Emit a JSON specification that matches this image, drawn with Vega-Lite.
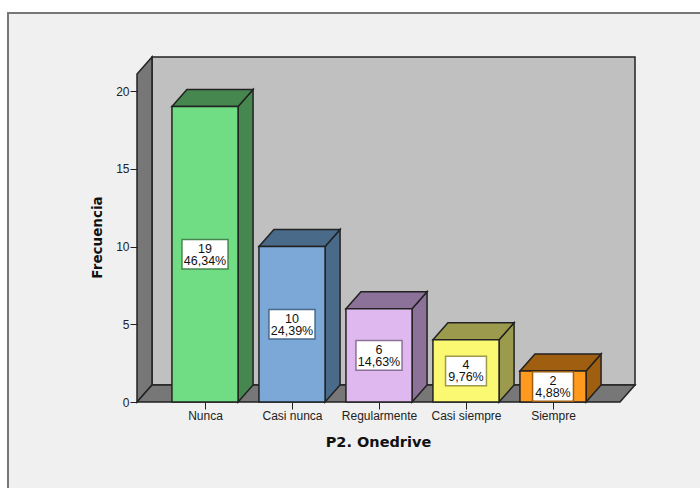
{
"$schema":"https://vega.github.io/schema/vega-lite/v6.json",
"width":498,"height":345,
"autosize":{"type":"none"},
"padding":{"left":137,"top":57,"right":65,"bottom":86},
"background":"#ffffff",
"view":{"stroke":null},
"datasets":{"bars":[
{"pos":1,"cat":"Nunca","n":19,"pct":"46,34%","wide":1},
{"pos":2,"cat":"Casi nunca","n":10,"pct":"24,39%","wide":1},
{"pos":3,"cat":"Regularmente","n":6,"pct":"14,63%","wide":1},
{"pos":4,"cat":"Casi siempre","n":4,"pct":"9,76%","wide":0},
{"pos":5,"cat":"Siempre","n":2,"pct":"4,88%","wide":0}
],"depth":[{"t":0},{"t":1}]},
"resolve":{"scale":{"color":"independent"}},
"layer":[
{"data":{"values":[{"part":"frame"}]},
 "mark":{"type":"rect","fill":"#f0f0f0","stroke":"#777777","strokeWidth":2},
 "encoding":{
  "x":{"datum":-1.2644,"type":"quantitative","scale":{"domain":[0.2184,5.9425],"nice":false,"zero":false},
   "axis":{"zindex":1,"values":[1,2,3,4,5],"grid":false,"domain":false,"tickColor":"#222222","tickSize":7,"labelFontSize":12,"labelFont":"Liberation Sans","labelColor":"#222222","labelPadding":1,"labelFlush":false,"labelOverlap":false,"labelExpr":"['Nunca','Casi nunca','Regularmente','Casi siempre','Siempre'][datum.value-1]","title":"P2. Onedrive","titleFont":"DejaVu Sans","titleFontSize":14.5,"titleFontWeight":"bold","titleColor":"#111111","titleX":241,"titleY":33}},
  "x2":{"datum":6.72},
  "y":{"datum":25.016,"type":"quantitative","scale":{"domain":[0,22.19],"nice":false,"zero":false},
   "axis":{"zindex":1,"values":[0,5,10,15,20],"grid":false,"domain":false,"tickColor":"#222222","tickSize":7,"labelFontSize":12,"labelFont":"Liberation Sans","labelColor":"#222222","labelPadding":1,"title":"Frecuencia","titleFont":"DejaVu Sans","titleFontSize":13.5,"titleFontWeight":"bold","titleColor":"#111111","titleX":-33,"titleY":180}},
  "y2":{"datum":-5.7}}},
{"data":{"values":[{"part":"back wall"}]},
 "mark":{"type":"rect","fill":"#c0c0c0","stroke":"#222222","strokeWidth":1.5},
 "encoding":{"x":{"datum":0.3908,"type":"quantitative"},"x2":{"datum":5.9425},"y":{"datum":1.093,"type":"quantitative"},"y2":{"datum":22.19}}},
{"data":{"name":"depth"},
 "transform":[{"calculate":"0.2184+datum.t*0.1724","as":"wx"},{"calculate":"datum.t*1.093","as":"wy0"},{"calculate":"21.09+datum.t*1.1","as":"wy1"}],
 "mark":{"type":"area","fill":"#777777","stroke":"#222222","strokeWidth":1.5},
 "encoding":{"x":{"field":"wx","type":"quantitative"},"y":{"field":"wy0","type":"quantitative"},"y2":{"field":"wy1"}}},
{"data":{"name":"depth"},
 "transform":[{"calculate":"0.2184+datum.t*0.1724","as":"fx0"},{"calculate":"5.77+datum.t*0.1725","as":"fx1"},{"calculate":"datum.t*1.093","as":"fy"}],
 "mark":{"type":"area","orient":"horizontal","fill":"#777777","stroke":"#222222","strokeWidth":1.5},
 "encoding":{"y":{"field":"fy","type":"quantitative"},"x":{"field":"fx0","type":"quantitative"},"x2":{"field":"fx1"}}},
{"data":{"name":"bars"},
 "transform":[{"calculate":"[0,1]","as":"t"},{"flatten":["t"]},{"calculate":"datum.pos+0.38+datum.t*0.1724","as":"sx"},{"calculate":"datum.t*1.093","as":"sy0"},{"calculate":"datum.n+datum.t*1.093","as":"sy1"}],
 "mark":{"type":"area","stroke":"#222222","strokeWidth":1.5},
 "encoding":{"x":{"field":"sx","type":"quantitative"},"y":{"field":"sy0","type":"quantitative"},"y2":{"field":"sy1"},
  "color":{"field":"cat","type":"nominal","legend":null,"scale":{"domain":["Nunca","Casi nunca","Regularmente","Casi siempre","Siempre"],"range":["#46874f","#4a6a8a","#8c7198","#9c9a4d","#a05e10"]}}}},
{"data":{"name":"bars"},
 "transform":[{"calculate":"[0,1]","as":"t"},{"flatten":["t"]},{"calculate":"datum.pos-0.38+datum.t*0.1724","as":"tx0"},{"calculate":"datum.pos+0.38+datum.t*0.1724","as":"tx1"},{"calculate":"datum.n+datum.t*1.093","as":"ty"}],
 "mark":{"type":"area","orient":"horizontal","stroke":"#222222","strokeWidth":1.5},
 "encoding":{"y":{"field":"ty","type":"quantitative"},"x":{"field":"tx0","type":"quantitative"},"x2":{"field":"tx1"},
  "color":{"field":"cat","type":"nominal","legend":null,"scale":{"domain":["Nunca","Casi nunca","Regularmente","Casi siempre","Siempre"],"range":["#46874f","#4a6a8a","#8c7198","#9c9a4d","#a05e10"]}}}},
{"data":{"name":"bars"},
 "transform":[{"calculate":"datum.pos-0.38","as":"b0"},{"calculate":"datum.pos+0.38","as":"b1"},{"calculate":"0","as":"base"}],
 "mark":{"type":"rect","stroke":"#222222","strokeWidth":1.5},
 "encoding":{"x":{"field":"b0","type":"quantitative"},"x2":{"field":"b1"},"y":{"field":"base","type":"quantitative"},"y2":{"field":"n"},
  "color":{"field":"cat","type":"nominal","legend":null,"scale":{"domain":["Nunca","Casi nunca","Regularmente","Casi siempre","Siempre"],"range":["#70dc84","#7ba8d6","#dfb8ef","#fbf871","#ff9a1e"]}}}},
{"data":{"name":"bars"},
 "transform":[{"calculate":"datum.wide?0.265:0.235","as":"hw"},{"calculate":"datum.pos-datum.hw","as":"l0"},{"calculate":"datum.pos+datum.hw","as":"l1"},{"calculate":"datum.n/2-0.95","as":"l2"},{"calculate":"datum.n/2+0.95","as":"l3"}],
 "mark":{"type":"rect","fill":"#ffffff","strokeWidth":1.5},
 "encoding":{"x":{"field":"l0","type":"quantitative"},"x2":{"field":"l1"},"y":{"field":"l2","type":"quantitative"},"y2":{"field":"l3"},
  "stroke":{"field":"cat","type":"nominal","legend":null,"scale":{"domain":["Nunca","Casi nunca","Regularmente","Casi siempre","Siempre"],"range":["#46874f","#4a6a8a","#8c7198","#9c9a4d","#a05e10"]}}}},
{"data":{"name":"bars"},
 "transform":[{"calculate":"datum.n+'\\n'+datum.pct","as":"lab"},{"calculate":"datum.n/2","as":"mid"}],
 "mark":{"type":"text","lineBreak":"\n","font":"Liberation Sans","fontSize":12.5,"lineHeight":12,"dy":-5.5,"color":"#111111","baseline":"middle","align":"center"},
 "encoding":{"x":{"field":"pos","type":"quantitative"},"y":{"field":"mid","type":"quantitative"},"text":{"field":"lab"}}}
]
}
